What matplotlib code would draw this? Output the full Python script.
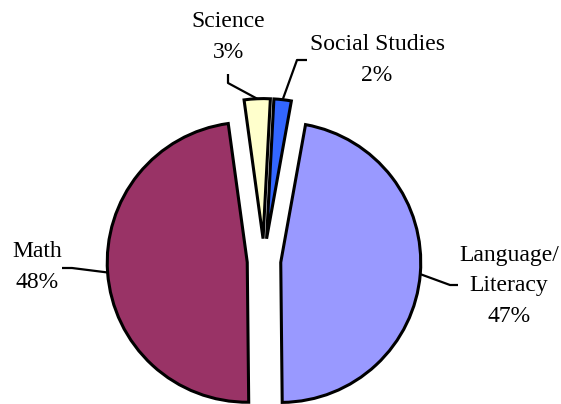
import matplotlib.pyplot as plt
import numpy as np

# Datos
etiquetas = ["Social Studies", "Language/\nLiteracy", "Math", "Science"]
porcentajes = [2, 47, 48, 3]
colores = ["#3366FF", "#9999FF", "#993366", "#FFFFCC"]

# Disposicion (en pixeles, origen abajo a la izquierda)
R = 140.0
ANCHO, ALTO = 561, 404
centro = (264, 143)
separacion = [0.16, 0.12, 0.12, 0.16]
pos_texto = [(377, 344), (509, 118), (37, 137), (228, 367)]
codo = [(297, 344), (450, 119), (72, 136), (228, 321)]
fin = [(307, 344), (458, 119), (62, 136), (228, 330)]


def p(x, y):
    return x / R, y / R


fig = plt.figure(figsize=(ANCHO / 100, ALTO / 100), dpi=100)
ax = fig.add_axes([0, 0, 1, 1])

wedges, _ = ax.pie(porcentajes, colors=colores, explode=separacion,
                   startangle=87, counterclock=False, radius=1,
                   center=p(*centro),
                   wedgeprops=dict(edgecolor="black", linewidth=2.2))

ax.set_xlim(0, ANCHO / R)
ax.set_ylim(0, ALTO / R)
ax.set_aspect("equal")
ax.axis("off")

for i, w in enumerate(wedges):
    ang = np.deg2rad((w.theta1 + w.theta2) / 2)
    ax0 = w.center[0] + w.r * np.cos(ang)
    ay0 = w.center[1] + w.r * np.sin(ang)
    xs = [ax0, p(*codo[i])[0], p(*fin[i])[0]]
    ys = [ay0, p(*codo[i])[1], p(*fin[i])[1]]
    ax.plot(xs, ys, color="black", lw=1.6, zorder=0, solid_capstyle="butt")
    ax.text(*p(*pos_texto[i]), f"{etiquetas[i]}\n{porcentajes[i]}%",
            ha="center", va="center", family="Liberation Serif",
            fontsize=17, linespacing=1.6)

fig.savefig("out.png", dpi=100)
